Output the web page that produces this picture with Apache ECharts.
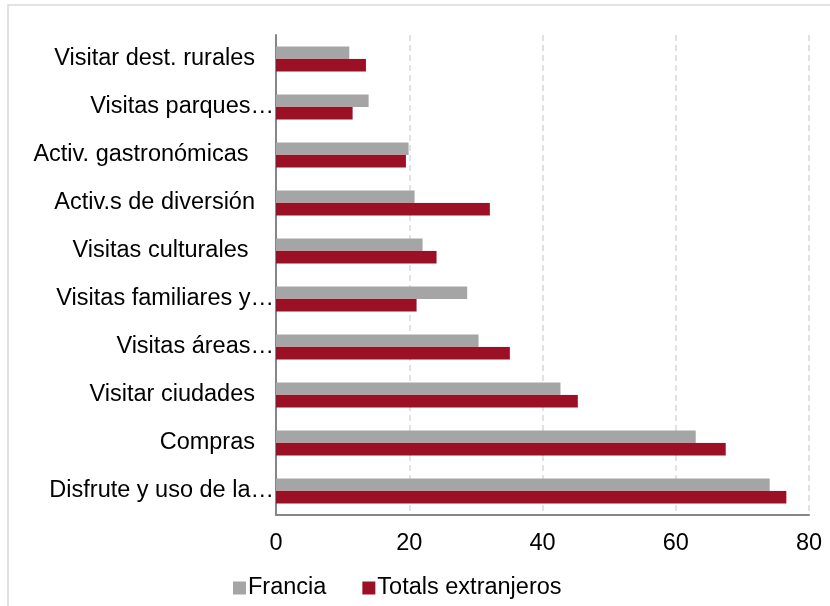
<!DOCTYPE html>
<html>
<head>
<meta charset="utf-8">
<script src="https://cdn.jsdelivr.net/npm/echarts@6/dist/echarts.min.js"></script>
<style>
html, body {margin: 0; padding: 0; background: #fff;}
#main {width: 830px; height: 606px;}
</style>
</head>
<body>
<div id="main"></div>
<script>
/*datos*/
var categorias = ['Visitar dest. rurales', 'Visitas parques…', 'Activ. gastronómicas ', 'Activ.s de diversión', 'Visitas culturales ', 'Visitas familiares y…', 'Visitas áreas…', 'Visitar ciudades', 'Compras', 'Disfrute y uso de la…'];
var francia = [11, 13.9, 19.9, 20.8, 22, 28.7, 30.4, 42.7, 63, 74.1];
var totales = [13.5, 11.5, 19.5, 32.1, 24.1, 21.1, 35.1, 45.3, 67.5, 76.6];
var ticks = [0, 20, 40, 60, 80];

var chartDom = document.getElementById('main');
var myChart = echarts.init(chartDom);
var option;

option = {
animation: false,
textStyle: {fontFamily: 'Liberation Sans, Arial, sans-serif'},
// marco del grafico
graphic: [{
type: 'rect',
shape: {x: 8, y: 5, width: 840, height: 620},
style: {fill: 'none', stroke: '#d9d9d9', lineWidth: 1.5},
silent: true
}],
grid: {left: 276, right: 21, top: 35, bottom: 91},
legend: {
left: 228,
top: 571,
itemWidth: 13,
itemHeight: 13,
itemGap: 36,
icon: 'rect',
textStyle: {fontSize: 23.5, color: '#000', padding: [0, 0, 0, -3]},
data: ['Francia', 'Totals extranjeros']
},
xAxis: {
type: 'value',
min: ticks[0],
max: ticks[ticks.length - 1],
interval: 20,
axisLine: {show: true, lineStyle: {color: '#868686', width: 2}},
axisTick: {show: false},
axisLabel: {fontSize: 23.5, color: '#000', margin: 17},
splitLine: {show: true, lineStyle: {color: '#d9d9d9', type: [6, 4], width: 1.5}}
},
yAxis: {
type: 'category',
inverse: true,
data: categorias,
axisLine: {show: true, lineStyle: {color: '#868686', width: 2}},
axisTick: {show: false},
axisLabel: {
fontSize: 23.5,
color: '#000',
margin: 2,
formatter: function (v) {
if (v.slice(-1) == '…') return v;
return '{p|' + v + '}';
},
rich: {p: {fontSize: 23.5, color: '#000', padding: [0, 19, 0, 0]}}
}
},
series: [{
name: 'Francia',
type: 'bar',
data: francia,
barWidth: 12.6,
barGap: '0%',
itemStyle: {color: '#a5a5a5'}
}, {
name: 'Totals extranjeros',
type: 'bar',
data: totales,
barWidth: 12.6,
barGap: '0%',
itemStyle: {color: '#9b1025'}
}]
};
myChart.setOption(option);
</script>
</body>
</html>
